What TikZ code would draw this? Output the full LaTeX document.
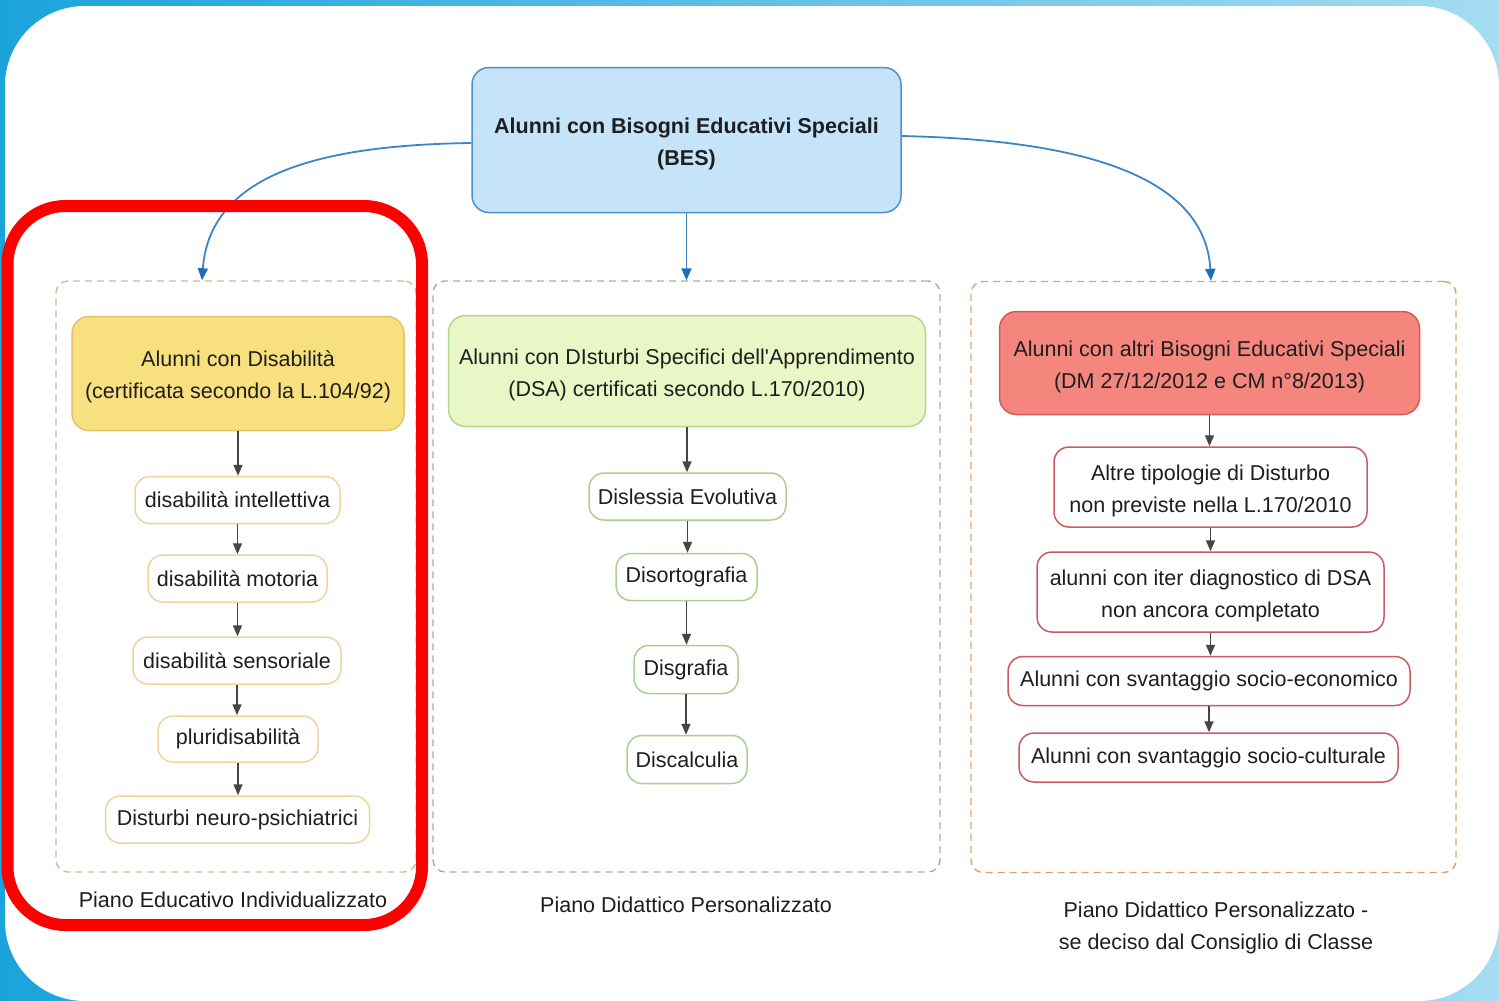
\documentclass[tikz,border=0pt]{standalone}
\usepackage{fontspec}
\setmainfont{Liberation Sans}
\usetikzlibrary{arrows.meta,positioning,calc}
\definecolor{bgL}{HTML}{1BA3DC}
\definecolor{bgR}{HTML}{A5DCF2}
\definecolor{txt}{HTML}{1E1E1E}
\definecolor{besfill}{HTML}{C6E4F9}
\definecolor{besdraw}{HTML}{4B8FD6}
\definecolor{bluearr}{HTML}{3D86C6}
\definecolor{bluetip}{HTML}{1F6DB5}
\definecolor{yfill}{HTML}{F9E07F}
\definecolor{ydraw}{HTML}{E3C46A}
\definecolor{ysmall}{HTML}{F0D49C}
\definecolor{gfill}{HTML}{E9F6C6}
\definecolor{gdraw}{HTML}{B2D88A}
\definecolor{gsmall}{HTML}{A9D18E}
\definecolor{rfill}{HTML}{F4867E}
\definecolor{rdraw}{HTML}{D65A5A}
\definecolor{rsmall}{HTML}{CC5A60}
\definecolor{g1dash}{HTML}{D2BC98}
\definecolor{g2dash}{HTML}{A3B292}
\definecolor{g3dash}{HTML}{DDA565}
\definecolor{arrgray}{HTML}{454545}
\begin{document}
\begin{tikzpicture}[x=1pt,y=-1pt,
  every node/.style={font=\fontsize{21.5}{32}\selectfont, text=txt, inner sep=0pt, align=center},
  box/.style={draw, line width=1.5pt, rounded corners=15pt},
  bigbox/.style={box, rounded corners=17pt},
  ml/.style={text height=55pt, text depth=4.5pt},
  ysm/.style={box, draw=ysmall, fill=white},
  gsm/.style={box, draw=gsmall, fill=white},
  rsm/.style={box, draw=rsmall, fill=white},
  grp/.style={draw, dashed, dash pattern=on 7pt off 5pt, line width=1.4pt, rounded corners=12pt},
  flow/.style={draw=arrgray, line width=1.5pt, -{Triangle[length=11pt,width=9pt]}},
  bflow/.style={draw=bluearr, line width=1.8pt, -{Triangle[length=12pt,width=10pt,color=bluetip]}},
  lbl/.style={text=txt}
]
\useasboundingbox (0,0) rectangle (1499,1001);
% background frame
\shade[left color=bgL, right color=bgR] (0,0) rectangle (1499,1001);
\fill[white, rounded corners=80pt] (5,6) rectangle (1499,1001);

% groups
\node[grp, draw=g1dash, fill=white, minimum width=360pt, minimum height=591pt] (g1) at (236,576.5) {};
\node[grp, draw=g2dash, fill=white, minimum width=507pt, minimum height=591pt] (g2) at (686.5,576.5) {};
\node[grp, draw=g3dash, fill=white, minimum width=485pt, minimum height=591pt] (g3) at (1213.5,577) {};

% top node
\node[bigbox, ml, draw=besdraw, fill=besfill, minimum width=429pt, minimum height=145pt, font=\fontsize{21.5}{32}\selectfont\bfseries] (bes) at (686.5,140) {Alunni con Bisogni Educativi Speciali\\(BES)};

% group 1
\node[bigbox, ml, draw=ydraw, fill=yfill, minimum width=332pt, minimum height=114pt] (y0) at (238,373.5) {Alunni con Disabilità\\(certificata secondo la L.104/92)};
\node[ysm, minimum width=205pt, minimum height=47pt] (y1) at (237.5,500) {disabilità intellettiva};
\node[ysm, minimum width=179pt, minimum height=47pt] (y2) at (237.5,578.5) {disabilità motoria};
\node[ysm, minimum width=208pt, minimum height=47pt] (y3) at (237,660.5) {disabilità sensoriale};
\node[ysm, minimum width=160pt, minimum height=46pt] (y4) at (238,739) {pluridisabilità};
\node[ysm, minimum width=264pt, minimum height=47pt] (y5) at (237.5,819.5) {Disturbi neuro-psichiatrici};

% group 2
\node[bigbox, ml, draw=gdraw, fill=gfill, minimum width=477pt, minimum height=111pt] (d0) at (687,371) {Alunni con DIsturbi Specifici dell\textquotesingle Apprendimento\\(DSA) certificati secondo L.170/2010)};
\node[gsm, minimum width=197pt, minimum height=47pt] (d1) at (687.5,496.5) {Dislessia Evolutiva};
\node[gsm, minimum width=141pt, minimum height=47pt] (d2) at (686.5,577) {Disortografia};
\node[gsm, minimum width=104pt, minimum height=48pt] (d3) at (686,669.5) {Disgrafia};
\node[gsm, minimum width=120pt, minimum height=48pt] (d4) at (687,759.5) {Discalculia};

% group 3
\node[bigbox, ml, draw=rdraw, fill=rfill, minimum width=420pt, minimum height=103pt] (r0) at (1209.5,363) {Alunni con altri Bisogni Educativi Speciali\\(DM 27/12/2012 e CM n°8/2013)};
\node[rsm, ml, minimum width=313pt, minimum height=80pt] (r1) at (1210.5,487) {Altre tipologie di Disturbo\\non previste nella L.170/2010};
\node[rsm, ml, minimum width=347pt, minimum height=80pt] (r2) at (1210.5,592) {alunni con iter diagnostico di DSA\\non ancora completato};
\node[rsm, minimum width=402pt, minimum height=49pt] (r3) at (1209,681) {Alunni con svantaggio socio-economico};
\node[rsm, minimum width=379pt, minimum height=49pt] (r4) at (1208.5,757.5) {Alunni con svantaggio socio-culturale};

% flow arrows
\foreach \a/\b in {y0/y1,y1/y2,y2/y3,y3/y4,y4/y5}{
  \draw[flow] (\a.south) -- (\a.south |- \b.north);}
\foreach \a/\b in {d0/d1,d1/d2,d2/d3,d3/d4}{
  \draw[flow] (\a.south) -- (\a.south |- \b.north);}
\foreach \a/\b in {r0/r1,r1/r2,r2/r3,r3/r4}{
  \draw[flow] (\a.south) -- (\a.south |- \b.north);}

% labels
\node[lbl] (l1) at (233,900) {Piano Educativo Individualizzato};
\node[lbl] (l2) at (686,905) {Piano Didattico Personalizzato};
\node[lbl] (l3) at (1216,928) {Piano Didattico Personalizzato -\\se deciso dal Consiglio di Classe};

% blue connectors
\coordinate (t1) at ([xshift=-34pt]g1.north);
\coordinate (t3) at ([xshift=-2.5pt]g3.north);
\draw[bflow] ([yshift=-3pt]bes.west) .. controls (330,145) and (210,170) .. (t1);
\draw[bflow] (bes.south) -- (bes.south |- g2.north);
\draw[bflow] ([yshift=4pt]bes.east) .. controls (1080,140) and (1205,175) .. (t3);

% red highlight
\draw[red, line width=12pt, rounded corners=58pt] (7.5,206) rectangle (422,925);
\end{tikzpicture}
\end{document}
